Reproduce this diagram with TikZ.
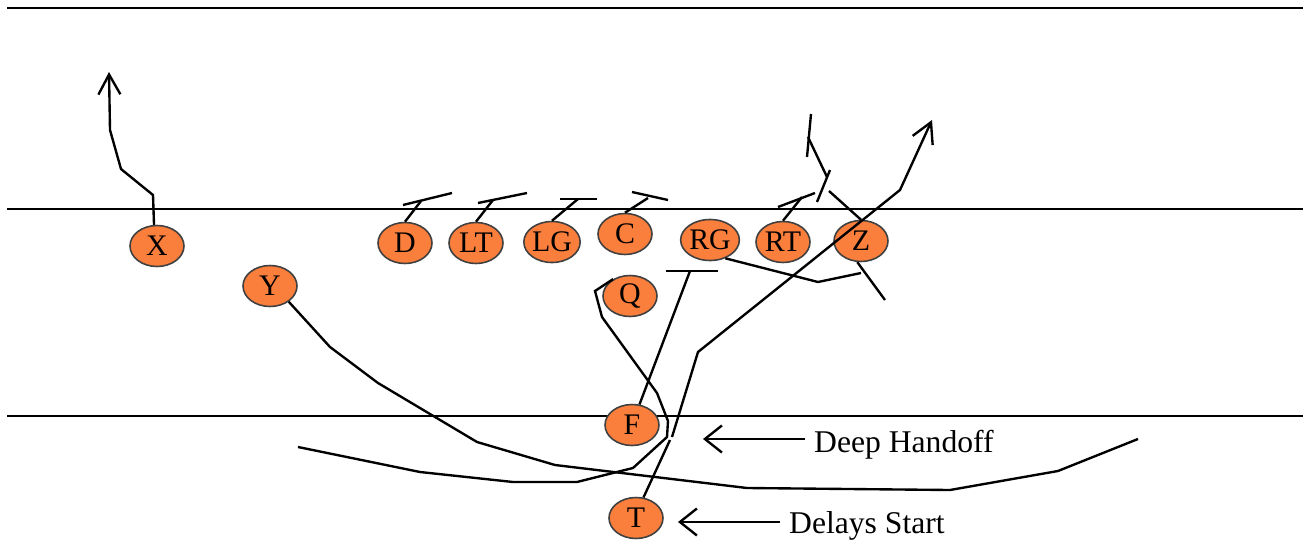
\documentclass[tikz,border=0pt]{standalone}
\usepackage{fontspec}
\setmainfont{Liberation Serif}
\usepackage{tikz}
\usetikzlibrary{shapes,arrows.meta}
\definecolor{playerorange}{RGB}{250,126,60}

\begin{document}
\begin{tikzpicture}[
  x=0.2mm,
  y=-0.2mm,
  line width=1.35pt
]

  \path[use as bounding box] (0,0) rectangle (1310,543);

  \tikzstyle{player}=[draw=black!75,ellipse,fill=playerorange,line width=0.9pt,minimum width=10.8mm,minimum height=8.2mm,inner sep=0pt,font=\fontsize{17}{17}\selectfont]
  \tikzstyle{fieldline}=[draw,line width=1.6pt]
  \tikzstyle{route}=[draw]
  \tikzstyle{routeend}=[draw,-{Straight Barb[length=4mm,width=4.4mm]}]
  \tikzstyle{block}=[draw]
  \tikzstyle{callout}=[draw,-{Straight Barb[length=3.4mm,width=5.4mm]}]
  \tikzstyle{calltext}=[anchor=base west,inner xsep=1.6mm,inner ysep=0pt,font=\fontsize{18}{18}\selectfont]

  % field lines
  \draw[fieldline] (7,8) -- (1303,8);
  \draw[fieldline] (7,209) -- (1303,209);
  \draw[fieldline] (7,416) -- (1303,416);

  % players
  \node[player] (X) at (157,246) {X};
  \node[player] (Y) at (270,286) {Y};
  \node[player] (D) at (405,243) {D};
  \node[player] (LT) at (476,243) {LT};
  \node[player] (LG) at (552,242) {LG};
  \node[player] (C) at (625,234) {C};
  \node[player] (RG) at (710,240) {RG};
  \node[player] (RT) at (783,242) {RT};
  \node[player] (Z) at (861,241) {Z};
  \node[player] (Q) at (630,296) {Q};
  \node[player] (F) at (632,425) {F};
  \node[player] (T) at (636,518) {T};

  % labels
  \node[calltext] (handoff) at (805,452) {Deep Handoff};
  \node[calltext] (delays) at (780,533) {Delays Start};

  % route ends and block bars
  \coordinate (Xgo) at (109,72);
  \coordinate (Tgo) at (932,120);
  \coordinate (Yend) at (1138,439);
  \coordinate (Qend) at (298,447);
  \coordinate (handoffTip) at (703,439);
  \coordinate (delaysTip) at (678,522);

  \coordinate (Dhit) at (421,201);
  \coordinate (Dbl) at (403,205);
  \coordinate (Dbr) at (452,193);
  \coordinate (LThit) at (493,200);
  \coordinate (LTbl) at (478,203);
  \coordinate (LTbr) at (527,193);
  \coordinate (LGhit) at (578,199);
  \coordinate (LGbl) at (560,199);
  \coordinate (LGbr) at (597,199);
  \coordinate (Chit) at (648,198);
  \coordinate (Cbl) at (632,192);
  \coordinate (Cbr) at (668,200);
  \coordinate (RThit) at (802,197);
  \coordinate (RTbl) at (778,207);
  \coordinate (RTbr) at (815,193);
  \coordinate (Fhit) at (690,271);
  \coordinate (Fbl) at (666,271);
  \coordinate (Fbr) at (718,271);
  \coordinate (Zkick) at (861,273);
  \coordinate (Zlow) at (885,300);
  \coordinate (Zcut) at (829,191);
  \coordinate (Zbl) at (817,202);
  \coordinate (Zbr) at (830,170);
  \coordinate (Zturn) at (827,177);
  \coordinate (Zstop) at (808,137);
  \coordinate (Ztl) at (811,114);
  \coordinate (Ztr) at (807,157);
  \coordinate (Tgap) at (670,440);
  \coordinate (Tgo2) at (672,437);

  % blocks
  \draw[block] (D.north) -- (Dhit);
  \draw[block] (Dbl) -- (Dbr);
  \draw[block] (LT.north) -- (LThit);
  \draw[block] (LTbl) -- (LTbr);
  \draw[block] (LG.north) -- (LGhit);
  \draw[block] (LGbl) -- (LGbr);
  \draw[block] (C.north) -- (Chit);
  \draw[block] (Cbl) -- (Cbr);
  \draw[block] (RT.north) -- (RThit);
  \draw[block] (RTbl) -- (RTbr);
  \draw[block] (F.70) -- (Fhit);
  \draw[block] (Fbl) -- (Fbr);
  \draw[block] (RG.-50) -- (818,282) -- (Zkick);
  \draw[block] (Z.-100) -- (Zlow);

  % routes
  \draw[routeend] (X.98) -- (153,195) -- (121,169) -- (110,130) -- (Xgo);
  \draw[route] (Z.north) -- (Zcut);
  \draw[route] (Zbl) -- (Zbr);
  \draw[route] (Zturn) -- (Zstop);
  \draw[route] (Ztl) -- (Ztr);
  \draw[route] (T.70) -- (Tgap);
  \draw[routeend] (Tgo2) -- (698,352) -- (900,190) -- (Tgo);
  \draw[route] (Q.135) -- (595,291) -- (602,317) -- (657,393) -- (668,421) -- (667,437)
    -- (633,468) -- (577,482) -- (513,482) -- (420,472) -- (Qend);
  \draw[route] (Y.-40) -- (330,347) -- (378,383) -- (477,442) -- (555,465) -- (747,488)
    -- (950,490) -- (1058,471) -- (Yend);

  % callouts
  \draw[callout] (handoff.west |- handoffTip) -- (handoffTip);
  \draw[callout] (delays.west |- delaysTip) -- (delaysTip);

\end{tikzpicture}
\end{document}
